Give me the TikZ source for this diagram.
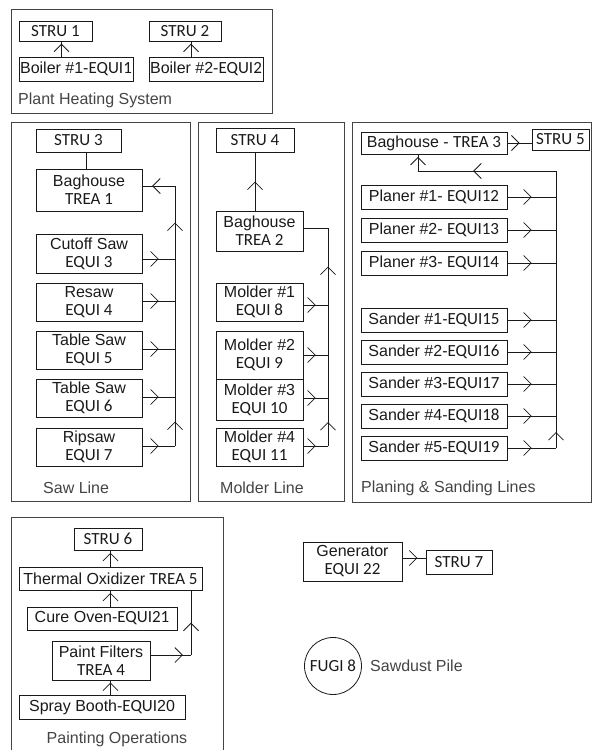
\documentclass[tikz,border=0pt]{standalone}
\usepackage{fontspec}
\setmainfont{Liberation Sans}
\newfontfamily\calibri{Carlito}
\usetikzlibrary{arrows.meta,decorations.markings,calc}
\definecolor{tinta}{HTML}{1A1A1A}
\definecolor{marco}{HTML}{444444}
\newcommand{\texto}{\fontsize{16}{18}\selectfont}
\newcommand{\eq}[1]{{\calibri\fontsize{17}{18}\selectfont #1}}
\newcommand{\caja}[6]{%
  \node[caja,minimum width={#4-#2},minimum height={#5-#3}] (#1) at ({(#2+#4)/2},{(#3+#5)/2}) {#6};}
\tikzset{
  caja/.style={draw=tinta,line width=0.8pt,inner sep=0pt,align=center,text=tinta,font=\texto},
  rotulo/.style={anchor=west,inner sep=0pt,text=marco,font=\texto},
  linea/.style={draw=tinta,line width=0.8pt},
  flecha/.style={postaction={decorate},decoration={markings,
    mark=at position #1 with {\arrow{Straight Barb[length=7.5pt,width=15pt]}}}},
  flecha/.default=0.5}

\begin{document}
\begin{tikzpicture}[x=1pt,y=-1pt]
  \useasboundingbox (0,0) rectangle (592,750);
  % marcos
  \draw[marco,line width=0.8pt] (11,9) rectangle (272,113);
  \draw[marco,line width=0.8pt] (11,122) rectangle (190,501);
  \draw[marco,line width=0.8pt] (198,122) rectangle (344,501);
  \draw[marco,line width=0.8pt] (352,122) rectangle (591,502);
  \draw[marco,line width=0.8pt] (11,752) -- (11,517) -- (223,517) -- (223,752);
  \node[rotulo] (lcal) at (18,100) {Plant Heating System};
  \node[rotulo] (lsaw) at (43,488) {Saw Line};
  \node[rotulo] (lmol) at (220,488) {Molder Line};
  \node[rotulo] (lpla) at (361,488) {Planing \& Sanding Lines};
  \node[rotulo,anchor=center] (lpin) at (117,739) {Painting Operations};
  % calefaccion
  \caja{s1}{19}{21}{92}{41}{\eq{STRU 1}}
  \caja{s2}{149}{21}{221}{41}{\eq{STRU 2}}
  \caja{e1}{19}{57}{133}{81}{Boiler \#1-\eq{EQUI1}}
  \caja{e2}{149}{57}{263}{81}{Boiler \#2-\eq{EQUI2}}
  \draw[linea,flecha=0.85] ([xshift=6]s1.south |- e1.north) -- ([xshift=6]s1.south);
  \draw[linea,flecha=0.85] ([xshift=6]s2.south |- e2.north) -- ([xshift=6]s2.south);
  % sierras
  \caja{s3}{36}{129}{121}{152}{\eq{STRU 3}}
  \caja{t1}{36}{169}{142}{211}{Baghouse\\\eq{TREA 1}}
  \caja{e3}{36}{234}{142}{273}{Cutoff Saw\\\eq{EQUI 3}}
  \caja{e4}{36}{283}{142}{321}{Resaw\\\eq{EQUI 4}}
  \caja{e5}{36}{331}{142}{369}{Table Saw\\\eq{EQUI 5}}
  \caja{e6}{36}{379}{142}{417}{Table Saw\\\eq{EQUI 6}}
  \caja{e7}{36}{428}{142}{466}{Ripsaw\\\eq{EQUI 7}}
  \coordinate (b1) at (175,186);
  \draw[linea] (s3.south -| 86,0) -- (t1.north -| 86,0);
  \draw[linea,flecha=0.7] (b1) -- (b1 -| t1.east);
  \foreach \n/\y in {e3/259,e4/301,e5/349,e6/397,e7/446}
    \draw[linea,flecha] (\n.east |- 0,\y) -- (b1 |- 0,\y);
  \draw[linea,flecha] (b1 |- 0,446) -- (b1 |- 0,397);
  \draw[linea] (b1 |- 0,397) -- (b1 |- 0,259);
  \draw[linea,flecha] (b1 |- 0,259) -- (b1);
  % moldeadoras
  \caja{s4}{216}{128}{294}{152}{\eq{STRU 4}}
  \caja{t2}{216}{211}{303}{251}{Baghouse\\\eq{TREA 2}}
  \caja{e8}{216}{283}{303}{321}{Molder \#1\\\eq{EQUI 8}}
  \caja{e9}{216}{331}{303}{379}{Molder \#2\\\eq{EQUI 9}}
  \caja{e10}{216}{379}{303}{420}{Molder \#3\\\eq{EQUI 10}}
  \caja{e11}{216}{428}{303}{466}{Molder \#4\\\eq{EQUI 11}}
  \coordinate (b2) at (328,228);
  \draw[linea,flecha] (t2.north -| s4) -- (s4.south);
  \draw[linea] (t2.east |- b2) -- (b2);
  \foreach \n/\y in {e8/305,e9/355,e10/398,e11/446}
    \draw[linea,flecha] (\n.east |- 0,\y) -- (b2 |- 0,\y);
  \draw[linea,flecha] (b2 |- 0,446) -- (b2 |- 0,398);
  \draw[linea] (b2 |- 0,398) -- (b2 |- 0,305);
  \draw[linea,flecha] (b2 |- 0,305) -- (b2);
  % cepillado y lijado
  \caja{t3}{361}{132}{507}{154}{Baghouse - \eq{TREA 3}}
  \caja{s5}{532}{129}{589}{150}{\eq{STRU 5}}
  \caja{e12}{361}{185}{507}{209}{Planer \#1- \eq{EQUI12}}
  \caja{e13}{361}{218}{507}{242}{Planer \#2- \eq{EQUI13}}
  \caja{e14}{361}{251}{507}{275}{Planer \#3- \eq{EQUI14}}
  \caja{e15}{361}{308}{507}{332}{Sander \#1-\eq{EQUI15}}
  \caja{e16}{361}{340}{507}{364}{Sander \#2-\eq{EQUI16}}
  \caja{e17}{361}{372}{507}{396}{Sander \#3-\eq{EQUI17}}
  \caja{e18}{361}{404}{507}{428}{Sander \#4-\eq{EQUI18}}
  \caja{e19}{361}{436}{507}{460}{Sander \#5-\eq{EQUI19}}
  \coordinate (b3) at (556,171);
  \coordinate (c3) at (418,171);
  \draw[linea,flecha] (t3.east |- 0,143) -- (s5.west |- 0,143);
  \draw[linea,flecha=0.6] (b3) -- (c3);
  \draw[linea,flecha=0.85] (c3) -- (c3 |- t3.south);
  \foreach \n in {e12,e13,e14,e15,e16,e17,e18,e19}
    \draw[linea,flecha] (\n.east) -- (\n.east -| b3);
  \draw[linea,flecha] (e19.east -| b3) -- (e18.east -| b3);
  \draw[linea] (e18.east -| b3) -- (b3);
  % pintura
  \caja{s6}{74}{528}{142}{550}{\eq{STRU 6}}
  \caja{t5}{19}{567}{202}{590}{Thermal Oxidizer \eq{TREA 5}}
  \caja{e21}{27}{607}{177}{630}{Cure Oven-\eq{EQUI21}}
  \caja{t4}{52}{641}{150}{680}{Paint Filters\\\eq{TREA 4}}
  \caja{e20}{19}{695}{185}{719}{Spray Booth-\eq{EQUI}20}
  \coordinate (c5) at (191,655);
  \draw[linea,flecha=0.85] (t5.north) -- (t5.north |- s6.south);
  \draw[linea,flecha=0.85] (t5.south |- e21.north) -- (t5.south);
  \draw[linea,flecha=0.85] (t5.south |- e20.north) -- (t5.south |- t4.south);
  \draw[linea,flecha=0.8] (t4.east |- c5) -- (c5);
  \draw[linea,flecha] (c5) -- (c5 |- t5.south);
  % generador y pila
  \caja{g22}{303}{542}{402}{581}{Generator\\\eq{EQUI 22}}
  \caja{s7}{426}{550}{492}{574}{\eq{STRU 7}}
  \draw[linea,flecha=0.65] (g22.east |- 0,558) -- (s7.west |- 0,558);
  \node[caja,circle,minimum size=57] (f8) at (333,666) {\eq{FUGI 8}};
  \node[rotulo] (l8) at (370,666) {Sawdust Pile};
\end{tikzpicture}
\end{document}
